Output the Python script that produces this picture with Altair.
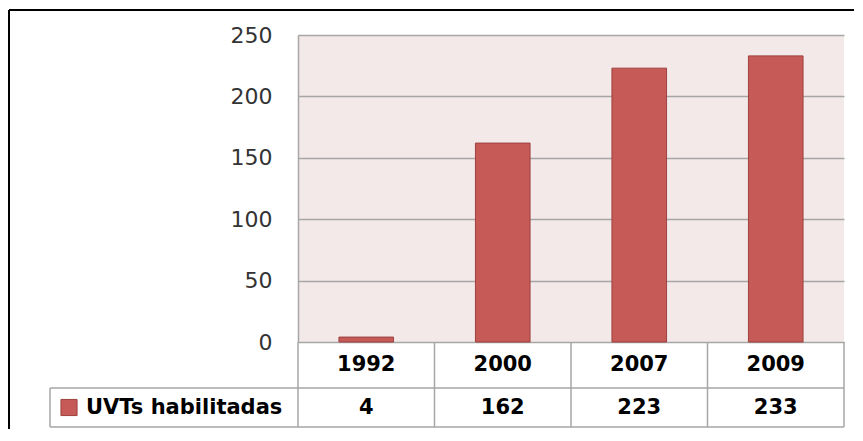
import altair as alt
import pandas as pd

# ---- data ----
years = ["1992", "2000", "2007", "2009"]
values = [4, 162, 223, 233]
series_name = "UVTs habilitadas"
y_ticks = [0, 50, 100, 150, 200, 250]

df = pd.DataFrame({"year": years, "value": values})
legend_df = pd.DataFrame({"name": [series_name]})

W, H = 546, 307
PAD_L, PAD_T, PAD_R, PAD_B = 290, 27, 10, 87
ROW1 = 46
ROW2 = 39
GRID = "#A6A6A6"
BAR = "#C55A57"
FONT = "DejaVu Sans"

xscale = alt.Scale(domain=years, paddingInner=0.6, paddingOuter=0.3)
xenc = alt.X("year:N", scale=xscale, axis=None, sort=years)

bars = alt.Chart(df).mark_bar(color=BAR, stroke="#9E413E", strokeWidth=1).encode(
    x=xenc,
    y=alt.Y("value:Q",
            scale=alt.Scale(domain=[0, 250], nice=False),
            axis=alt.Axis(values=y_ticks, grid=True, gridColor=GRID, gridWidth=1.5,
                          domain=True, domainColor=GRID, domainWidth=1.5,
                          ticks=False, labelFontSize=22, labelFont=FONT,
                          labelColor="#333333", labelPadding=26, title=None)),
)

# table: column separators derived from the band scale
step = W / len(years)
col_lines = alt.Chart(df).mark_rule(color=GRID, strokeWidth=1.5, xOffset=-step * 0.3).encode(
    x=alt.X("year:N", scale=xscale, axis=None, sort=years, bandPosition=0),
    y=alt.value(H), y2=alt.value(H + ROW1 + ROW2),
)

frame_df = pd.DataFrame({
    "x": [W, -248, -248, -248],
    "x2": [W, W, W, -248],
    "y": [H, H + ROW1, H + ROW1 + ROW2, H + ROW1],
    "y2": [H + ROW1 + ROW2, H + ROW1, H + ROW1 + ROW2, H + ROW1 + ROW2],
})
table_lines = alt.layer(*[
    alt.Chart(legend_df).mark_rule(color=GRID, strokeWidth=1.5).encode(
        x=alt.value(r.x), x2=alt.value(r.x2), y=alt.value(r.y), y2=alt.value(r.y2))
    for r in frame_df.itertuples()
])

year_text = alt.Chart(df).mark_text(fontSize=21, fontWeight="bold", font=FONT,
                                    color="#000000", baseline="middle").encode(
    x=xenc, y=alt.value(H + ROW1 / 2), text="year:N")

value_text = alt.Chart(df).mark_text(fontSize=21, fontWeight="bold", font=FONT,
                                     color="#000000", baseline="middle").encode(
    x=xenc, y=alt.value(H + ROW1 + ROW2 / 2), text="value:Q")

legend_sym = alt.Chart(legend_df).mark_point(shape="square", filled=True, size=260,
                                             color=BAR, opacity=1, stroke="#9E413E",
                                             strokeWidth=1).encode(
    x=alt.value(-229), y=alt.value(H + ROW1 + ROW2 / 2))

legend_txt = alt.Chart(legend_df).mark_text(fontSize=21, fontWeight="bold", font=FONT,
                                            color="#000000", align="left",
                                            baseline="middle").encode(
    x=alt.value(-212), y=alt.value(H + ROW1 + ROW2 / 2), text="name:N")

outer = alt.layer(
    alt.Chart(legend_df).mark_rule(color="#000000", strokeWidth=2).encode(
        x=alt.value(-PAD_L + 1), x2=alt.value(W + PAD_R), y=alt.value(-PAD_T + 2), y2=alt.value(-PAD_T + 2)),
    alt.Chart(legend_df).mark_rule(color="#000000", strokeWidth=2).encode(
        x=alt.value(-PAD_L + 1), x2=alt.value(-PAD_L + 1), y=alt.value(-PAD_T + 2), y2=alt.value(H + PAD_B)),
)

chart = alt.layer(bars, col_lines, table_lines, year_text, value_text,
                  legend_sym, legend_txt, outer).properties(
    width=W, height=H,
    padding={"left": PAD_L, "top": PAD_T, "right": PAD_R, "bottom": PAD_B},
    autosize=alt.AutoSizeParams(type="none"),
    background="#FFFFFF",
).configure_view(fill="#F3E9E9", stroke=None)

chart.save("out.html", embed_options={"renderer": "svg", "actions": False})
